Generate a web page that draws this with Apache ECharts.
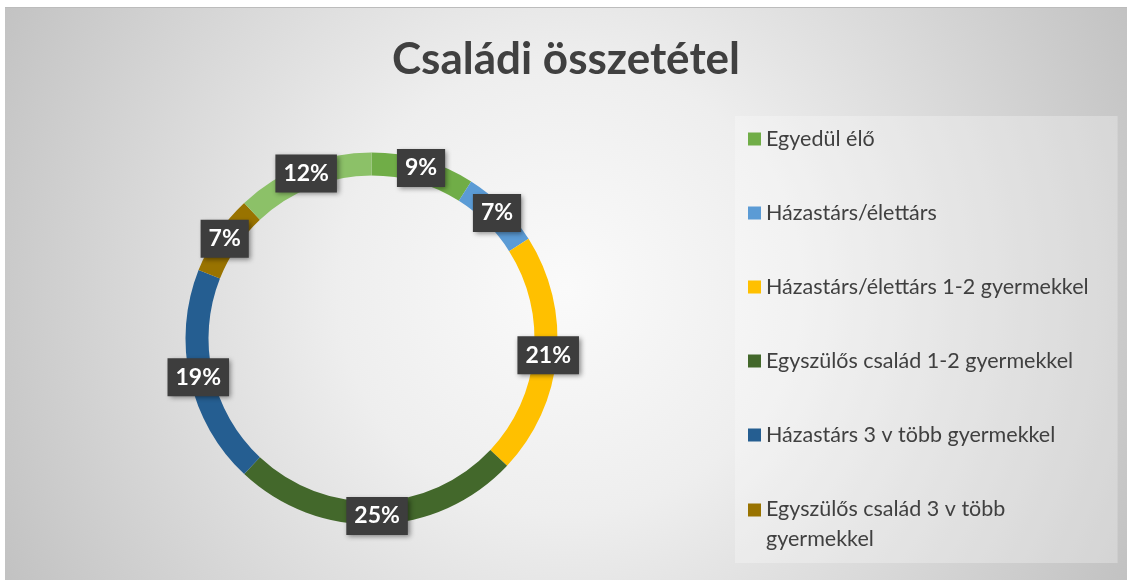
<!DOCTYPE html>
<html>
<head>
<meta charset="utf-8">
<script src="https://cdn.jsdelivr.net/npm/echarts@6/dist/echarts.min.js"></script>
<style>
  html, body { margin: 0; padding: 0; background: #ffffff; }
  #chart { position: absolute; left: 5px; top: 7px; width: 1122px; height: 573px; border-top: 1px solid #bcbcbc; box-sizing: border-box; }
</style>
</head>
<body>
<div id="chart"></div>
<script>
const titleText = 'Családi összetétel';
const categories = [
  'Egyedül élő',
  'Házastárs/élettárs',
  'Házastárs/élettárs 1-2 gyermekkel',
  'Egyszülős család 1-2 gyermekkel',
  'Házastárs 3 v több gyermekkel',
  'Egyszülős család 3 v több gyermekkel',
  'Egyéb'
];
const values = [9, 7, 21, 25, 19, 7, 12];
const colors = ['#70AD47', '#5B9BD5', '#FFC000', '#43682B', '#255E91', '#997300', '#8CC168'];
const legendNames = categories.slice(0, 6);
const wrappedName = 'Egyszülős család 3 v több gyermekkel';

const chart = echarts.init(document.getElementById('chart'), null, { renderer: 'canvas' });

const legendFont = { fontFamily: 'Lato', fontSize: 21.5, color: '#404040' };

chart.setOption({
  backgroundColor: {
    type: 'radial', x: 560, y: 280, r: 650, global: true,
    colorStops: [
      { offset: 0, color: '#fafafa' },
      { offset: 0.35, color: '#eeeeee' },
      { offset: 1, color: '#c0c0c0' }
    ]
  },
  animation: false,
  title: {
    text: titleText,
    left: 'center',
    top: 25,
    textStyle: { fontFamily: 'Lato', fontWeight: 'bold', fontSize: 44, color: '#404040' }
  },
  legend: {
    orient: 'vertical',
    left: 730,
    top: 108,
    height: 470,
    padding: [8, 29, 13, 13],
    backgroundColor: 'rgba(255,255,255,0.28)',
    itemWidth: 13,
    itemHeight: 13,
    itemGap: 44,
    icon: 'rect',
    selectedMode: false,
    data: legendNames,
    formatter: function (name) {
      if (name === wrappedName) {
        return '{l1|Egyszülős család 3 v több}\n{l2|gyermekkel}';
      }
      return name;
    },
    textStyle: Object.assign({ lineHeight: 30 }, legendFont, {
      rich: {
        l1: Object.assign({ lineHeight: 30 }, legendFont),
        l2: Object.assign({ lineHeight: 2, verticalAlign: 'top', padding: [4, 0, 0, 0] }, legendFont)
      }
    })
  },
  series: [{
    type: 'pie',
    center: [366.5, 330.5],
    radius: [163, 186],
    startAngle: 90,
    clockwise: true,
    avoidLabelOverlap: false,
    data: categories.map(function (c, i) {
      return { name: c, value: values[i], itemStyle: { color: colors[i] } };
    }),
    label: {
      show: true,
      position: 'inside',
      formatter: '{c}%',
      fontFamily: 'Lato',
      fontWeight: 'bold',
      fontSize: 23,
      color: '#ffffff',
      backgroundColor: '#3d3d3d',
      padding: [8, 8, 7, 8],
      shadowColor: 'rgba(0,0,0,0.45)',
      shadowBlur: 5,
      shadowOffsetX: 2,
      shadowOffsetY: 2
    },
    labelLine: { show: false },
    emphasis: { disabled: true }
  }]
});
</script>
</body>
</html>
